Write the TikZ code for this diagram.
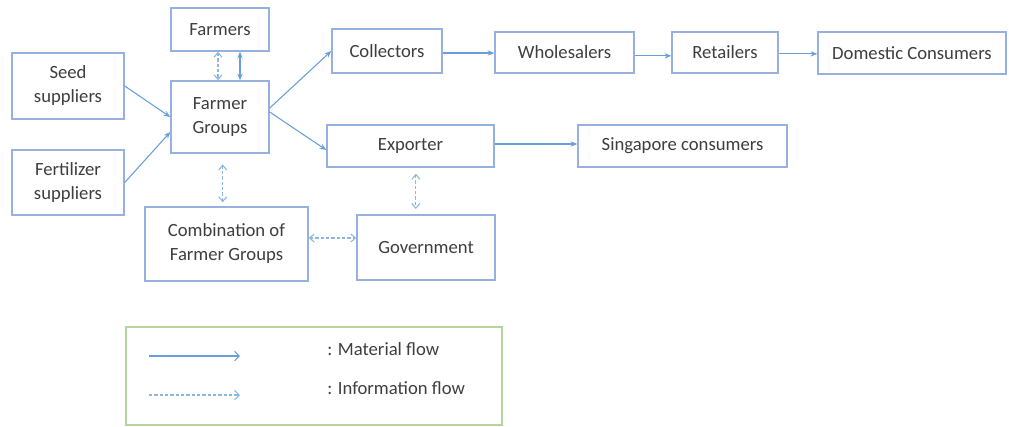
\documentclass[tikz,border=0pt]{standalone}
\usepackage{fontspec}
\setmainfont{Carlito}
\usetikzlibrary{arrows.meta}

\definecolor{boxblue}{RGB}{150,176,226}
\definecolor{flowblue}{RGB}{104,158,218}
\definecolor{infoblue}{RGB}{140,182,228}
\definecolor{legendgreen}{RGB}{178,214,158}
\definecolor{textgrey}{RGB}{62,62,62}

\begin{document}
\begin{tikzpicture}[x=0.75pt, y=-0.75pt,
		every node/.style={font=\fontsize{14}{18}\selectfont, text=textgrey},
		box/.style={draw=boxblue, line width=1.1pt, fill=white, align=center, inner sep=0pt},
		material/.style={flowblue, line width=0.8pt, -{Stealth[length=5pt, width=4pt]}},
		info/.style={infoblue, line width=0.8pt, dashed, dash pattern=on 2.5pt off 1.5pt, {Straight Barb[length=3.5pt, width=6pt]}-{Straight Barb[length=3.5pt, width=6pt]}}]

			\useasboundingbox (0, 0) rectangle (1009, 426);

			% suppliers and farmers
			\node[box, minimum width=73.5pt, minimum height=32.25pt]	(farmers)	at (220, 29.5)	{Farmers};
			\node[box, minimum width=84pt, minimum height=49.5pt]		(seed)		at (68, 86)		{Seed\\suppliers};
			\node[box, minimum width=84pt, minimum height=48.75pt]		(fert)		at (68, 182.5)	{Fertilizer\\suppliers};
			\node[box, minimum width=73.5pt, minimum height=54pt]		(groups)	at (220, 117)	{Farmer\\Groups};

			% domestic chain
			\node[box, minimum width=82.5pt, minimum height=33pt]		(coll)		at (387, 51)	{Collectors};
			\node[box, minimum width=104.25pt, minimum height=30.75pt]	(whole)		at (564.5, 52.5) {Wholesalers};
			\node[box, minimum width=79.5pt, minimum height=30.75pt]	(retail)	at (725, 52.5)	{Retailers};
			\node[box, minimum width=141pt, minimum height=31.5pt]		(domestic)	at (912, 53)	{Domestic Consumers};

			% export chain
			\node[box, minimum width=125.25pt, minimum height=31.5pt]	(exporter)	at (410.5, 146)	{Exporter};
			\node[box, minimum width=156.75pt, minimum height=31.5pt]	(singapore)	at (682.5, 146)	{Singapore consumers};

			% information partners
			\node[box, minimum width=122.25pt, minimum height=55.5pt]	(combo)		at (226.5, 244)	{Combination of\\Farmer Groups};
			\node[box, minimum width=103.5pt, minimum height=48.75pt]	(gov)		at (426, 247.5)	{Government};

			% material flows
			\draw[material]	(seed.east) to (groups.west);
			\draw[material]	(fert.east) to ([yshift=-11.25pt]groups.west);
			\draw[material]	([yshift=6.75pt]groups.east) to (coll.west);
			\draw[material]	([yshift=3.75pt]groups.east) to ([yshift=-3pt]exporter.west);
			\draw[material]	([yshift=-1.5pt]coll.east) to ([yshift=-1.5pt]coll.east -| whole.west);
			\draw[material]	([yshift=-2.5pt]whole.east) to ([yshift=-2.5pt]whole.east -| retail.west);
			\draw[material]	([yshift=-1pt]retail.east) to ([yshift=-1pt]retail.east -| domestic.west);
			\draw[material]	([yshift=1.5pt]exporter.east) to ([yshift=1.5pt]exporter.east -| singapore.west);
			\draw[material, {Stealth[length=5pt, width=4pt]}-{Stealth[length=5pt, width=4pt]}]	([xshift=15pt]farmers.south) to ([xshift=15pt]groups.north);

			% information flows
			\draw[info]		([xshift=-1.5pt]farmers.south) to ([xshift=-1.5pt]groups.north);
			\draw[info, shorten <=8pt, shorten >=3pt]	([xshift=2pt]groups.south) to ([xshift=2pt]groups.south |- combo.north);
			\draw[info, shorten <=4.5pt, shorten >=4pt]	([xshift=4pt]exporter.south) to ([xshift=4pt]exporter.south |- gov.north);
			\draw[info]		([yshift=4.5pt]combo.east) to ([yshift=4.5pt]combo.east -| gov.west);

			% legend
			\node[draw=legendgreen, line width=1.1pt, minimum width=282pt, minimum height=73.5pt, inner sep=0pt]	(legend)	at (314, 376) {};
			\coordinate (mstart)	at (149, 356);
			\coordinate (mend)		at (240, 356);
			\coordinate (istart)	at (149, 395);
			\coordinate (iend)		at (240, 395);
			\draw[flowblue, line width=0.8pt, -{Straight Barb[length=3.5pt, width=7pt]}]	(mstart) to (mend);
			\draw[infoblue, line width=0.8pt, dash pattern=on 2.5pt off 1.5pt, -{Straight Barb[length=3.5pt, width=7pt]}]	(istart) to (iend);
			\node[anchor=west, inner sep=0pt]	(mlabel)	at (327, 349)	{: Material flow};
			\node[anchor=west, inner sep=0pt]	(ilabel)	at (327, 388)	{: Information flow};
		\end{tikzpicture}
\end{document}
